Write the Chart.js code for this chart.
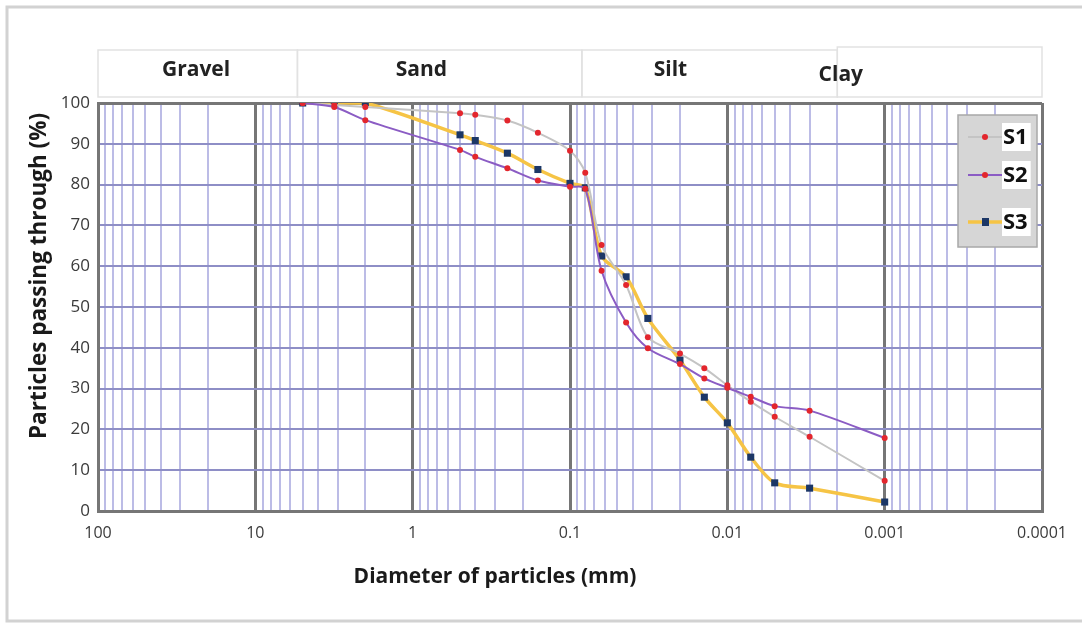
<!DOCTYPE html>
<html>
<head>
<meta charset="utf-8">
<script src="https://cdn.jsdelivr.net/npm/chart.js@4.4.0/dist/chart.umd.min.js"></script>
<style>
  html, body { margin: 0; background: #fff; }
  #wrap { width: 1082px; height: 623px; }
</style>
</head>
<body>
<div id="wrap"><canvas id="chart" width="1082" height="623"></canvas></div>
<script>
// grain sizes (mm): sieves then hydrometer readings
const diameters = [5, 3.15, 2, 0.5, 0.4, 0.25, 0.16, 0.1, 0.08, 0.063, 0.044, 0.032, 0.02, 0.014, 0.01, 0.0071, 0.005, 0.003, 0.001];
const s1 = [100, 99.5, 99, 97.5, 97.1, 95.7, 92.7, 88.3, 82.9, 65.2, 55.4, 42.6, 38.6, 35, 30.8, 26.8, 23.1, 18.2, 7.4];
const s2 = [100, 99, 95.8, 88.5, 86.8, 84, 81, 79.5, 79, 58.9, 46.2, 39.9, 36, 32.5, 30.2, 28, 25.7, 24.6, 17.9];
const s3 = [100, 100, 100, 92.2, 90.8, 87.7, 83.7, 80.3, 79.2, 62.5, 57.4, 47.2, 37, 27.9, 21.6, 13.2, 6.9, 5.6, 2.2];
const seriesNames = ['S1', 'S2', 'S3'];

const xDecades = [100, 10, 1, 0.1, 0.01, 0.001, 0.0001];
const yTicks = [0, 10, 20, 30, 40, 50, 60, 70, 80, 90, 100];

const bandNames = ['Gravel', 'Sand', 'Silt', 'Clay'];
const bandEdges = [100, 5.4, 0.084, 0.002, 0.0001];

const FONT = '"Open Sans", Lato, sans-serif';

function pts(ys) {
  return diameters.map((d, i) => ({ x: d, y: ys[i] }));
}

function isDecade(v) {
  const l = Math.log10(v);
  return Math.abs(l - Math.round(l)) < 1e-6;
}

const decor = {
  id: 'decor',
  beforeDraw(chart) {
    const ctx = chart.ctx;
    const xs = chart.scales.x;
    const top = chart.chartArea.top;
    ctx.save();
    // outer frame
    ctx.strokeStyle = '#d2d2d2';
    ctx.lineWidth = 3;
    ctx.strokeRect(7, 7, 1100, 614);
    // soil class bands above the plot
    const o = chart.options.plugins.decor;
    ctx.strokeStyle = '#e2e2e2';
    ctx.lineWidth = 1.5;
    ctx.fillStyle = '#222';
    ctx.font = 'bold 21px ' + FONT;
    ctx.textAlign = 'center';
    ctx.textBaseline = 'middle';
    bandNames.forEach((name, i) => {
      const x0 = xs.getPixelForValue(bandEdges[i]);
      const x1 = xs.getPixelForValue(bandEdges[i + 1]);
      const y0 = i === 3 ? top - 56 : top - 53;
      ctx.strokeRect(x0, y0, x1 - x0, top - 6 - y0);
      ctx.fillText(name, xs.getPixelForValue(o.labelAt[i]), top - (i === 3 ? 28 : 33));
    });
    ctx.restore();
  },
  afterDraw(chart) {
    const ctx = chart.ctx;
    const ca = chart.chartArea;
    ctx.save();
    ctx.fillStyle = '#1a1a1a';
    ctx.textAlign = 'center';
    ctx.textBaseline = 'middle';
    ctx.font = 'bold 21px ' + FONT;
    ctx.fillText('Diameter of particles (mm)', 495, 577);
    ctx.translate(40, 276);
    ctx.rotate(-Math.PI / 2);
    ctx.font = 'bold 22.5px ' + FONT;
    ctx.fillText('Particles passing through (%)', 0, 0);
    ctx.restore();

    // legend box
    ctx.save();
    const lx = ca.right - 84, ly = ca.top + 12, lw = 79, lh = 132;
    ctx.fillStyle = '#d6d6d6';
    ctx.fillRect(lx, ly, lw, lh);
    ctx.strokeStyle = '#a8a8a8';
    ctx.lineWidth = 1.5;
    ctx.strokeRect(lx, ly, lw, lh);
    const rows = [22, 60, 107];
    chart.data.datasets.forEach((ds, i) => {
      const y = ly + rows[i];
      ctx.strokeStyle = ds.borderColor;
      ctx.lineWidth = ds.borderWidth;
      ctx.beginPath();
      ctx.moveTo(lx + 10, y);
      ctx.lineTo(lx + 44, y);
      ctx.stroke();
      ctx.fillStyle = ds.pointBackgroundColor;
      if (ds.pointStyle === 'rect') {
        ctx.fillRect(lx + 24, y - 4, 7, 8);
      } else {
        ctx.beginPath();
        ctx.arc(lx + 27, y, 3, 0, Math.PI * 2);
        ctx.fill();
      }
      ctx.font = 'bold 22px ' + FONT;
      const tw = ctx.measureText(ds.label).width;
      ctx.fillStyle = '#fff';
      ctx.fillRect(lx + 44, y - 14, tw + 4, 28);
      ctx.fillStyle = '#111';
      ctx.textAlign = 'left';
      ctx.textBaseline = 'middle';
      ctx.fillText(ds.label, lx + 45, y + 1);
    });
    ctx.restore();
  }
};

new Chart(document.getElementById('chart'), {
  type: 'scatter',
  data: {
    datasets: [
      {
        label: seriesNames[0],
        data: pts(s1),
        showLine: true,
        tension: 0.3,
        borderColor: '#c4c4c4',
        borderWidth: 2,
        pointStyle: 'circle',
        pointRadius: 3,
        pointBorderWidth: 0,
        pointBackgroundColor: '#e3262d',
        order: 2,
      },
      {
        label: seriesNames[1],
        data: pts(s2),
        showLine: true,
        tension: 0.3,
        borderColor: '#8b5cc4',
        borderWidth: 2,
        pointStyle: 'circle',
        pointRadius: 3,
        pointBorderWidth: 0,
        pointBackgroundColor: '#e3262d',
        order: 1,
      },
      {
        label: seriesNames[2],
        data: pts(s3),
        showLine: true,
        tension: 0.3,
        borderColor: '#f6c445',
        borderWidth: 3.5,
        pointStyle: 'rect',
        pointRadius: 5,
        pointBorderWidth: 0,
        pointBackgroundColor: '#1c3766',
        order: 3,
      },
    ],
  },
  options: {
    responsive: false,
    animation: false,
    layout: { padding: { left: 0, top: 103, right: 40, bottom: 0 } },
    plugins: {
      legend: { display: false },
      tooltip: { enabled: false },
      decor: { labelAt: [23.8, 0.88, 0.023, 0.0019] },
    },
    scales: {
      x: {
        type: 'logarithmic',
        reverse: true,
        min: 0.0001,
        max: 100,
        afterBuildTicks(scale) {
          const ticks = [];
          xDecades.forEach(d => {
            for (let k = 1; k <= 9; k++) {
              const v = d * k;
              if (v <= 100.0001) ticks.push({ value: v });
            }
          });
          scale.ticks = ticks;
        },
        afterFit(scale) { scale.height = 112; },
        ticks: {
          autoSkip: false,
          maxRotation: 0,
          padding: 13,
          color: '#3a3a3a',
          font: { family: FONT, size: 16 },
          callback: (v) => isDecade(v) ? String(xDecades.find(d => Math.abs(d - v) / d < 1e-6)) : '',
        },
        grid: {
          drawTicks: false,
          color: (c) => c.tick && isDecade(c.tick.value) ? '#767676' : '#bcbce6',
          lineWidth: (c) => c.tick && isDecade(c.tick.value) ? 3 : 2,
        },
        border: { display: true, color: '#767676', width: 3 },
      },
      y: {
        min: 0,
        max: 100,
        afterBuildTicks(scale) {
          scale.ticks = yTicks.map(v => ({ value: v }));
        },
        afterFit(scale) { scale.width = 98; },
        ticks: {
          padding: 8,
          color: '#3a3a3a',
          font: { family: FONT, size: 17 },
        },
        grid: {
          drawTicks: false,
          color: (c) => c.tick && (c.tick.value === 0 || c.tick.value === 100) ? '#767676' : '#8e8ec6',
          lineWidth: (c) => c.tick && (c.tick.value === 0 || c.tick.value === 100) ? 3 : 2,
        },
        border: { display: true, color: '#767676', width: 3 },
      },
    },
  },
  plugins: [decor],
});
</script>
</body>
</html>
